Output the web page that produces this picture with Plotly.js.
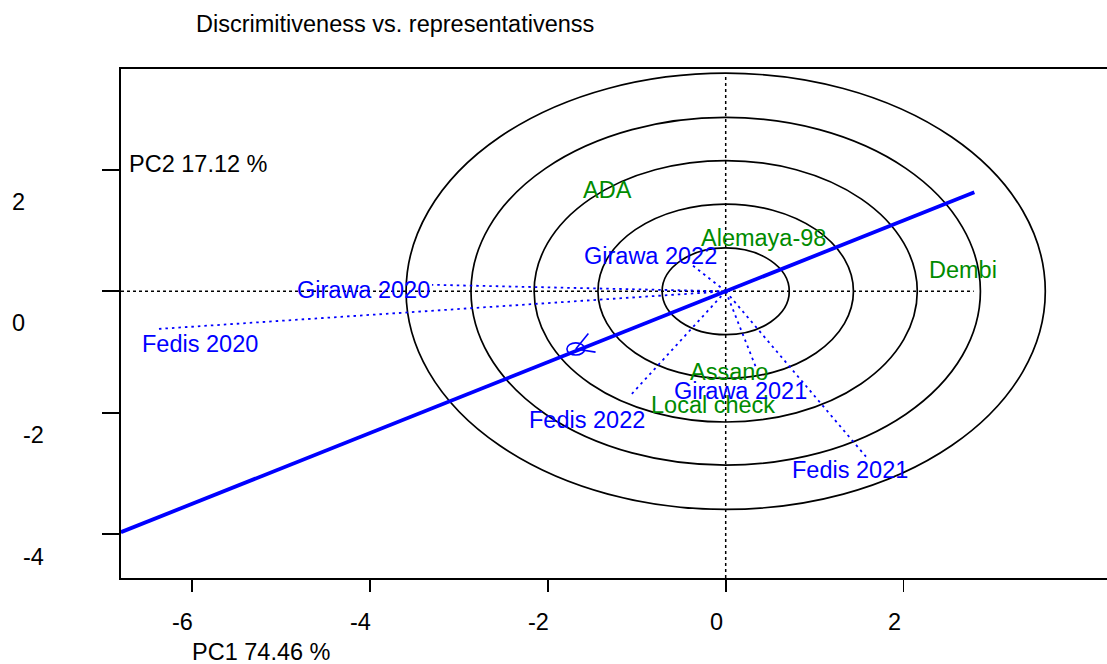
<!DOCTYPE html>
<html>
<head>
<meta charset="utf-8">
<script src="https://cdn.plot.ly/plotly-3.0.1.min.js"></script>
<style>
html,body{margin:0;padding:0;overflow:hidden;background:#fff;width:1107px;height:664px;}
#chart{width:1200px;height:664px;}
</style>
</head>
<body>
<div id="chart"></div>
<script>
// ---------------- data ----------------
const titleText = 'Discrimitiveness vs. representativenss';
const xAxisTitle = 'PC1 74.46 %';
const yAxisTitle = 'PC2 17.12 %';

const xTickVals = [-6, -4, -2, 0, 2];
const xTickText = ['-6', '-4', '-2', '0', '2'];
const yTickVals = [2, 0, -2, -4];
const yTickText = ['2', '0', '-2', '-4'];

const genotypes = ['ADA', 'Alemaya-98', 'Dembi', 'Assano', 'Local check'];
const genoX = [-1.328, 0.427, 2.664, 0.037, -0.139];
const genoY = [1.670, 0.879, 0.358, -1.325, -1.874];

const envNames = ['Fedis 2020', 'Girawa 2020', 'Girawa 2022', 'Fedis 2022', 'Girawa 2021', 'Fedis 2021'];
const envX = [-6.405, -3.304, -0.402, -1.057, 0.350, 1.578];
const envY = [-0.623, 0.107, 0.462, -1.693, -1.290, -2.726];
const envLabelX = [-5.908, -4.076, -0.848, -1.555, 0.164, 1.402];
const envLabelY = [-0.869, 0.021, 0.587, -2.121, -1.640, -2.945];

const avgEnvX = -1.686;
const avgEnvY = -0.951;
const aeaX = [-6.802, 2.797];
const aeaY = [-3.970, 1.632];

const circleRadii = [0.715, 1.437, 2.155, 2.865, 3.595];
const hAxisX = [-6.802, 2.79];
const vAxisY = [-4.726, 3.60];

// ---------------- layout geometry ----------------
const W = 1200, H = 664, ML = 121, MR = 50, MT = 69, MB = 86;
const plotW = W - ML - MR, plotH = H - MT - MB;
const xRange = [-6.802, -6.802 + plotW / 88.9];
const yRange = [-4.726, 3.664];
const pxX = plotW / (xRange[1] - xRange[0]);
const pxY = plotH / (yRange[1] - yRange[0]);
function paperX(px) { return (px - ML) / plotW; }
function paperY(py) { return (H - MB - py) / plotH; }

const FONT = 'Liberation Sans, Arial, Helvetica, sans-serif';
const FS = 23.5;
const BLUE = '#0000FF';
const GREEN = '#008B00';

// ---------------- traces ----------------
const traces = [];

// dotted reference axes through the origin
traces.push({
  x: [hAxisX[0], hAxisX[1], null, 0, 0],
  y: [0, 0, null, vAxisY[0], vAxisY[1]],
  mode: 'lines', type: 'scatter', hoverinfo: 'skip', showlegend: false,
  line: {color: '#000', width: 1.5, dash: '3px,3px'}
});

// environment vectors
const vx = [], vy = [];
for (let i = 0; i < envNames.length; i++) { vx.push(0, envX[i], null); vy.push(0, envY[i], null); }
traces.push({
  x: vx, y: vy, mode: 'lines', type: 'scatter', hoverinfo: 'skip', showlegend: false,
  line: {color: BLUE, width: 1.8, dash: '2.5px,4px'}
});

// average environment axis
traces.push({
  x: aeaX, y: aeaY, mode: 'lines', type: 'scatter', hoverinfo: 'skip', showlegend: false,
  line: {color: BLUE, width: 3.8}
});

// arrow head at the average environment (barbs 20px, 30 deg)
(function () {
  const dxp = (0 - avgEnvX) * pxX, dyp = -(0 - avgEnvY) * pxY;
  const len = Math.hypot(dxp, dyp);
  const ux = dxp / len, uy = dyp / len;
  const L = 20, a = Math.PI / 6;
  const bx = [], by = [];
  [a, -a].forEach(function (t) {
    const rx = ux * Math.cos(t) - uy * Math.sin(t);
    const ry = ux * Math.sin(t) + uy * Math.cos(t);
    bx.push(avgEnvX, avgEnvX + rx * L / pxX, null);
    by.push(avgEnvY, avgEnvY - ry * L / pxY, null);
  });
  traces.push({
    x: bx, y: by, mode: 'lines', type: 'scatter', hoverinfo: 'skip', showlegend: false,
    line: {color: BLUE, width: 1.6}
  });
})();

// ---------------- shapes ----------------
const shapes = circleRadii.map(function (r) {
  return {type: 'circle', xref: 'x', yref: 'y', x0: -r, x1: r, y0: -r, y1: r,
          line: {color: '#000', width: 1.7}, layer: 'below'};
});
shapes.push({type: 'circle', xref: 'x', yref: 'y',
  x0: avgEnvX - 0.1, x1: avgEnvX + 0.1, y0: avgEnvY - 0.1, y1: avgEnvY + 0.1,
  line: {color: BLUE, width: 1.6}, layer: 'above'});

// ---------------- annotations ----------------
const ann = [];
function txt(o) {
  return Object.assign({showarrow: false, xanchor: 'center', yanchor: 'middle',
    font: {family: FONT, size: FS, color: '#000'}}, o);
}
genotypes.forEach(function (g, i) {
  ann.push(txt({text: g, x: genoX[i], y: genoY[i], xref: 'x', yref: 'y', font: {family: FONT, size: FS, color: GREEN}}));
});
envNames.forEach(function (e, i) {
  ann.push(txt({text: e, x: envLabelX[i], y: envLabelY[i], xref: 'x', yref: 'y', font: {family: FONT, size: FS, color: BLUE}}));
});
xTickVals.forEach(function (v, i) {
  ann.push(txt({text: xTickText[i], x: v, xref: 'x', xshift: -9.5, y: paperY(621.5), yref: 'paper'}));
});
const yLabPx = [18.3, 18.3, 33, 33];
const yLabShift = [-32, -32, -22, -23.4];
yTickVals.forEach(function (v, i) {
  ann.push(txt({text: yTickText[i], x: paperX(yLabPx[i]), xref: 'paper', y: v, yref: 'y', yshift: yLabShift[i]}));
});
ann.push(txt({text: xAxisTitle, xanchor: 'left', x: paperX(190), xref: 'paper', y: paperY(652.5), yref: 'paper'}));
ann.push(txt({text: yAxisTitle, xanchor: 'left', x: paperX(126.5), xref: 'paper', y: paperY(163.7), yref: 'paper'}));
ann.push(txt({text: titleText, xanchor: 'left', x: paperX(193.5), xref: 'paper', y: paperY(23.5), yref: 'paper'}));

const axisCommon = {
  showgrid: false, zeroline: false, showline: true, mirror: true,
  linecolor: '#000', linewidth: 1.8, ticks: 'outside', tickcolor: '#000',
  tickwidth: 1.8, showticklabels: false, fixedrange: true
};

const layout = {
  width: W, height: H,
  margin: {l: ML, r: MR, t: MT, b: MB, pad: 0},
  paper_bgcolor: '#fff', plot_bgcolor: '#fff',
  showlegend: false,
  xaxis: Object.assign({}, axisCommon, {range: xRange, tickmode: 'array', tickvals: xTickVals, ticklen: 12}),
  yaxis: Object.assign({}, axisCommon, {range: yRange, tickmode: 'array', tickvals: yTickVals, ticklen: 17}),
  shapes: shapes,
  annotations: ann
};

Plotly.newPlot('chart', traces, layout, {staticPlot: true, displayModeBar: false});
</script>
</body>
</html>
